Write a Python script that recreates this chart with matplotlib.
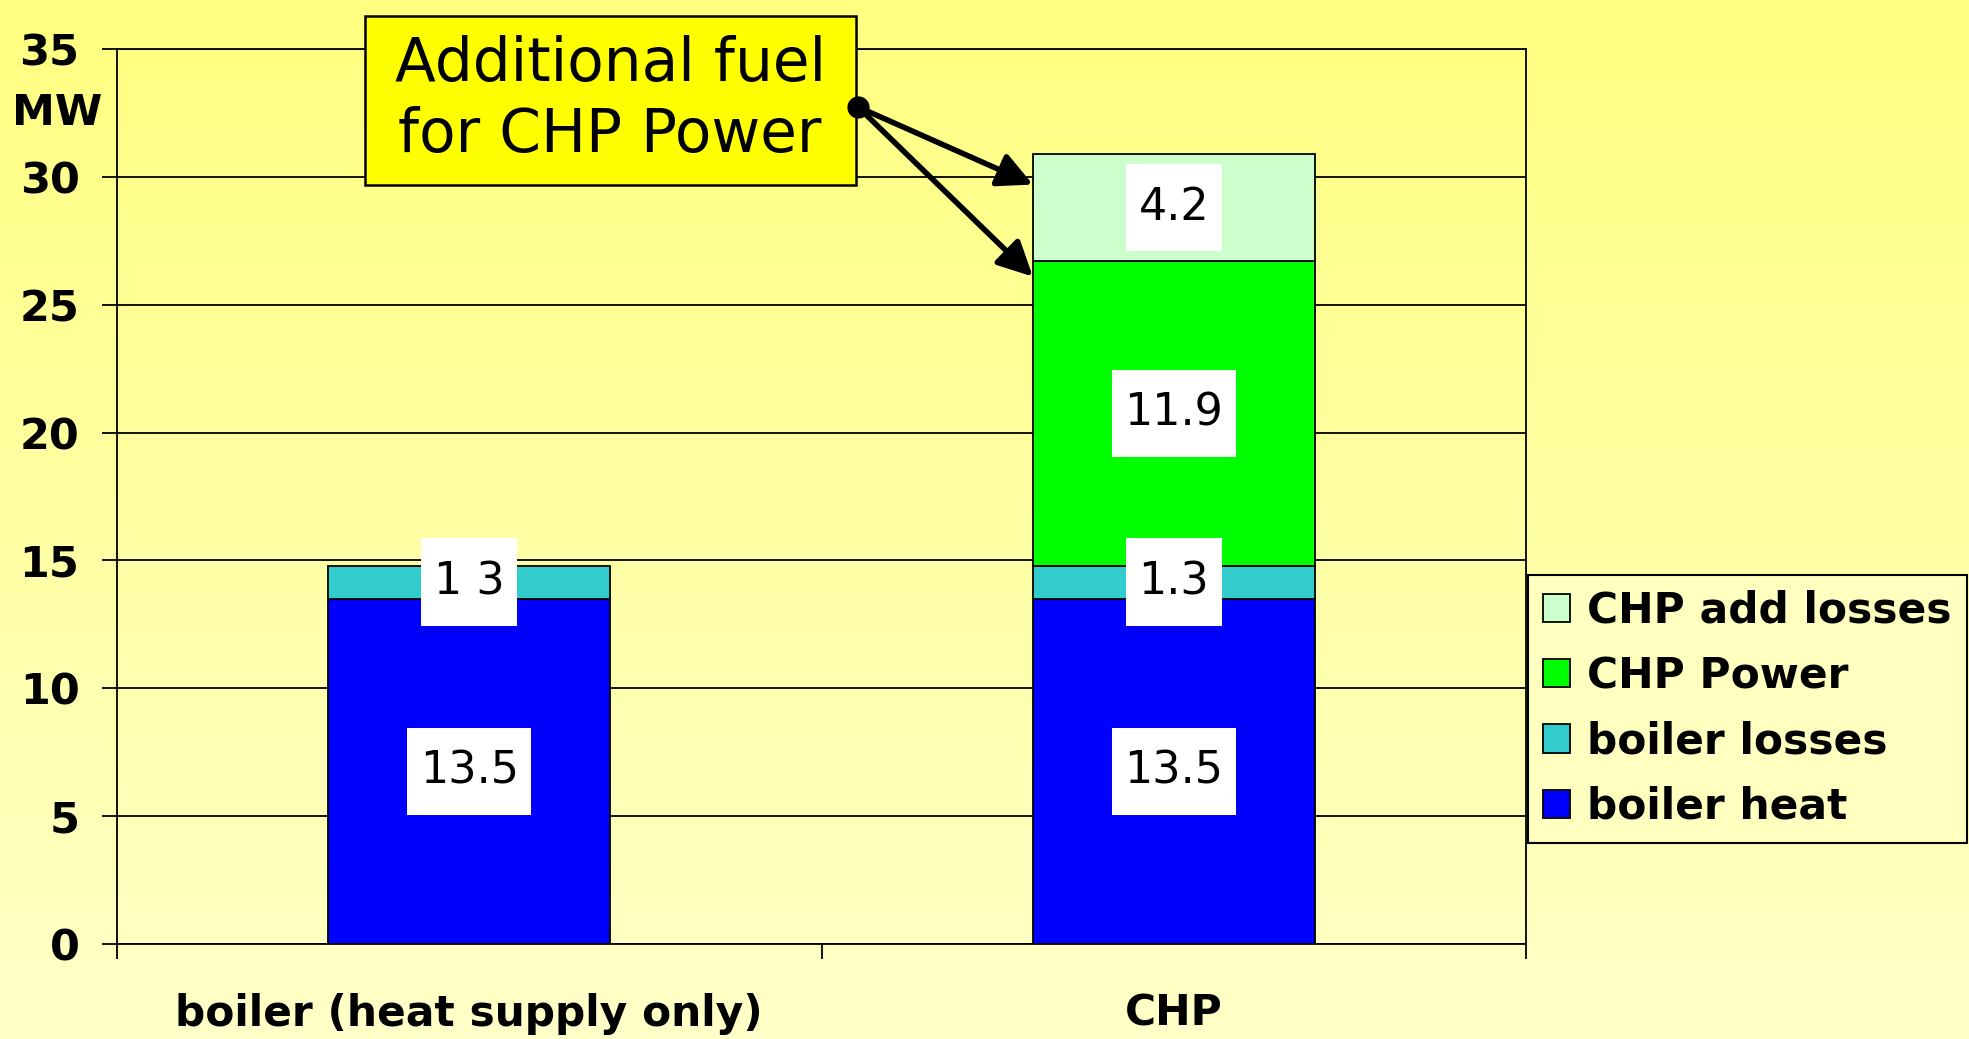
import matplotlib.pyplot as plt
import numpy as np
from matplotlib.path import Path

# chart data
categories = ["boiler (heat supply only)", "CHP"]
series_names = ["boiler heat", "boiler losses", "CHP Power", "CHP add losses"]
boiler_heat = [13.5, 13.5]
boiler_losses = [1.3, 1.3]
chp_power = [0.0, 11.9]
chp_add_losses = [0.0, 4.2]
value_labels = [["13.5", "13.5"], ["1 3", "1.3"], [None, "11.9"], [None, "4.2"]]
y_ticks = [0, 5, 10, 15, 20, 25, 30, 35]
colors = ["#0000FF", "#33CCCC", "#00FF00", "#CCFFCC"]

W, H = 1969, 1039


def rect_box(px, py):
    # square box with separate horizontal / vertical padding (fraction of font size)
    def style(x0, y0, w, h, mutation_size):
        ax_, ay_ = px * mutation_size, py * mutation_size
        l, b, r, t = x0 - ax_, y0 - ay_, x0 + w + ax_, y0 + h + ay_
        return Path([(l, b), (r, b), (r, t), (l, t), (l, b)], closed=True)
    return style


fig = plt.figure(figsize=(W / 100, H / 100), dpi=100)

# yellow gradient background
bg = fig.add_axes([0, 0, 1, 1], zorder=-10)
t = np.linspace(0, 1, 256).reshape(-1, 1, 1)
top = np.array([255, 255, 128]) / 255
bot = np.array([255, 255, 200]) / 255
bg.imshow(top + (bot - top) * t, aspect="auto", extent=[0, 1, 0, 1], origin="upper")
bg.axis("off")

ax = fig.add_axes([117 / W, 1 - 944 / H, (1526 - 117) / W, (944 - 49) / H])
ax.set_facecolor("none")

x = np.arange(len(categories))
width = 0.4
bottom = np.zeros(len(categories))
series = [boiler_heat, boiler_losses, chp_power, chp_add_losses]
for vals, name, col, labs in zip(series, series_names, colors, value_labels):
    vals = np.array(vals)
    mask = vals > 0
    ax.bar(x[mask], vals[mask], width, bottom=bottom[mask], color=col,
           edgecolor="black", linewidth=1.3, label=name, zorder=3)
    for xi, v, b, lab in zip(x, vals, bottom, labs):
        if lab:
            ax.text(xi, b + v / 2, lab, ha="center", va="center", fontsize=32,
                    bbox=dict(boxstyle=rect_box(0.28, 0.5), facecolor="white", edgecolor="none"),
                    zorder=5)
    bottom = bottom + vals

ax.set_xlim(-0.5, 1.5)
ax.set_ylim(0, 35)
ax.set_yticks(y_ticks)
ax.yaxis.grid(True, color="black", linewidth=1.3)
ax.set_axisbelow(True)
ax.tick_params(axis="y", length=11, width=1.3, pad=16, labelsize=31)
for lbl in ax.get_yticklabels():
    lbl.set_fontweight("bold")

ax.set_xticks([-0.5, 0.5, 1.5])
ax.set_xticklabels([])
ax.tick_params(axis="x", which="major", length=11, width=1.3)
ax.set_xticks(x, categories, minor=True)
ax.tick_params(axis="x", which="minor", length=0, pad=35, labelsize=30.5)
for lbl in ax.get_xticklabels(minor=True):
    lbl.set_fontweight("bold")
for s in ax.spines.values():
    s.set_linewidth(1.3)

fig.text(57 / W, 1 - 113 / H, "MW", ha="center", va="center", fontsize=31, fontweight="bold")

# callout
ax.text(0.2, 33.0, "Additional fuel\nfor CHP Power", ha="center", va="center",
        fontsize=43, linespacing=1.25, clip_on=False, zorder=6,
        bbox=dict(boxstyle=rect_box(0.5, 0.33), facecolor="#FFFF00", edgecolor="black", linewidth=1.8))
start = (0.552, 32.73)
chp_left = x[1] - width / 2
for ty in [29.7, 26.1]:
    ax.annotate("", xy=(chp_left, ty), xytext=start, annotation_clip=False, zorder=7,
                arrowprops=dict(arrowstyle="-|>,head_length=0.6,head_width=0.3",
                                color="black", lw=4, mutation_scale=35, shrinkA=0, shrinkB=0))
ax.plot(*start, "o", color="black", markersize=15, clip_on=False, zorder=8)

handles, labels = ax.get_legend_handles_labels()
leg = ax.legend(handles[::-1], labels[::-1], loc="upper left",
                bbox_to_anchor=(1528 / W, 1 - 575 / H), bbox_transform=fig.transFigure,
                borderaxespad=0, fancybox=False, edgecolor="black", facecolor="#FFFFC0",
                framealpha=1, prop={"weight": "bold", "size": 30.5},
                handlelength=0.65, handleheight=0.65, handletextpad=0.4,
                labelspacing=0.55, borderpad=0.35)
leg.get_frame().set_linewidth(1.5)

plt.savefig("out.png", dpi=100)
